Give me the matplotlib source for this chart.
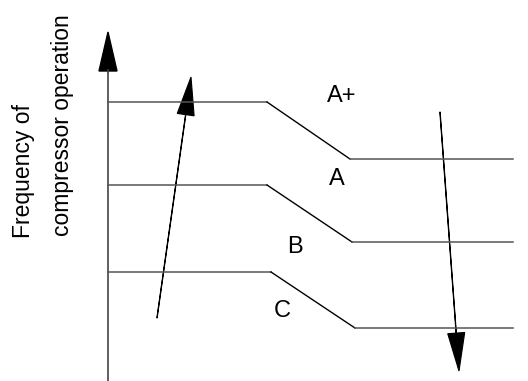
import matplotlib.pyplot as plt

plt.rcParams['font.family'] = ['Liberation Sans', 'DejaVu Sans']

# schematic levels: x breakpoints and y (pixel-like units, y grows downward)
level_names = ['A+', 'A', 'C']
x_start = [108, 108, 108]
x_knee1 = [267, 267, 271]
x_knee2 = [350, 352, 355]
x_end = [513, 513, 513]
y_high = [102, 185, 272]
y_low = [159, 242, 328]

# zone labels and where they sit
labels = ['A+', 'A', 'B', 'C']
label_x = [342, 337, 295, 282]
label_y = [96, 179, 247, 311]

# arrows: tail -> tip
arrow_tail = [(157, 318), (440, 112)]
arrow_tip = [(191, 77), (459, 371)]

# y label lines and their baseline anchors
ylab_lines = ['Frequency of', 'compressor operation']
ylab_x = [30, 69]
ylab_y = [238, 236]

fig = plt.figure(figsize=(5.28, 3.81), dpi=100)
ax = fig.add_axes([0, 0, 1, 1])
ax.set_xlim(0, 528)
ax.set_ylim(381, 0)
ax.axis('off')

# vertical axis with arrow head
ax.plot([108, 108], [381, 70], color='#444444', lw=1.2)
ax.arrow(108, 72, 0, -1, width=0.1, head_width=18, head_length=39,
         length_includes_head=False, fc='black', ec='black')

for i in range(len(level_names)):
    ax.plot([x_start[i], x_knee1[i]], [y_high[i], y_high[i]], color='#555555', lw=1.1)
    ax.plot([x_knee1[i], x_knee2[i]], [y_high[i], y_low[i]], color='black', lw=1.0)
    ax.plot([x_knee2[i], x_end[i]], [y_low[i], y_low[i]], color='#555555', lw=1.1)

for t, x, y in zip(labels, label_x, label_y):
    ax.text(x, y, t, fontsize=17, ha='center', va='center')

for (x0, y0), (x1, y1) in zip(arrow_tail, arrow_tip):
    ax.arrow(x0, y0, x1 - x0, y1 - y0, width=0.3, head_width=17, head_length=38,
             length_includes_head=True, fc='black', ec='black', lw=0.8)

for t, x, y in zip(ylab_lines, ylab_x, ylab_y):
    ax.text(x, y, t, rotation=90, rotation_mode='anchor', fontsize=16.5,
            ha='left', va='baseline')

plt.savefig('out.png')
